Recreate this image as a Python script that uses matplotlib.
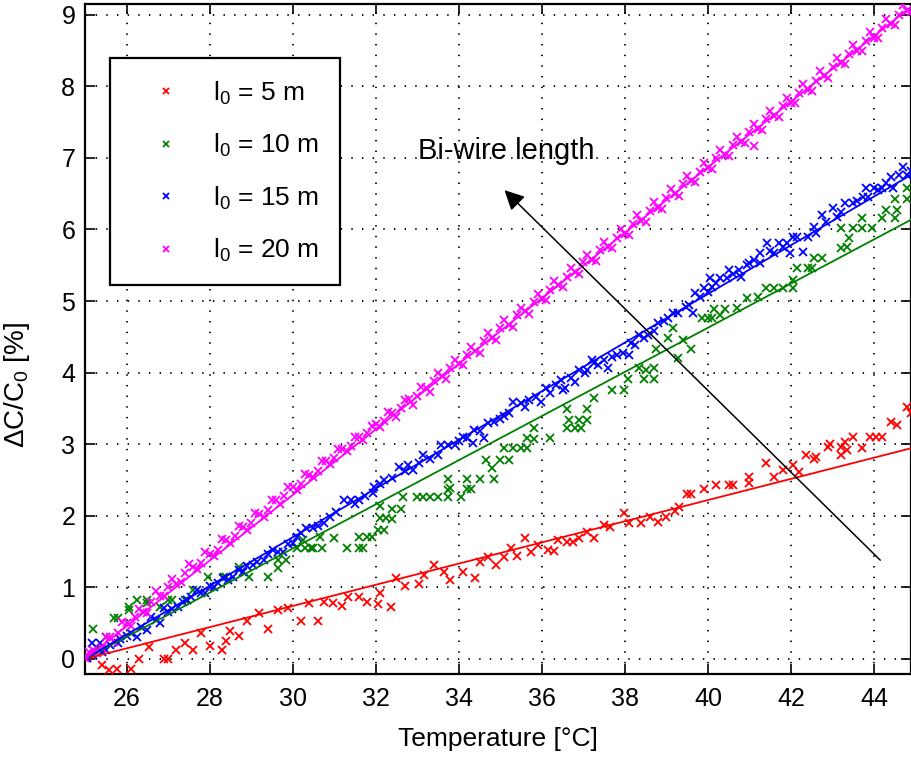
import matplotlib
matplotlib.use("Agg")
import matplotlib.pyplot as plt

plt.rcParams['font.family'] = ['Liberation Sans', 'DejaVu Sans']
plt.rcParams['mathtext.default'] = 'regular'

# ---------------- data ----------------
labels = ["l$_0$ = 5 m", "l$_0$ = 10 m", "l$_0$ = 15 m", "l$_0$ = 20 m"]
colors = ["#ff0000", "#008000", "#0000ff", "#ff00ff"]

fit_x = [25.0, 45.0]
fit_red = [0.0, 2.96]
fit_green = [0.0, 6.17]
fit_blue = [0.0, 6.80]
fit_mag = [0.0, 9.16]

red_x = [25.05, 25.4, 25.57, 25.76, 26.1, 26.3, 26.55, 26.9, 27.0, 27.2, 27.4, 27.6, 27.8, 28.0,
         28.3, 28.4, 28.5, 28.7, 28.9, 29.2, 29.4, 29.65, 29.9, 30.2, 30.6, 30.4, 30.75, 30.97,
         31.2, 31.33, 31.6, 31.8, 32.05, 32.1, 32.36, 32.5, 32.7, 33.04, 33.16, 33.4, 33.65, 33.8,
         34.1, 34.4, 34.5, 34.7, 34.9, 35.1, 35.25, 35.4, 35.6, 35.75, 35.9, 36.14, 36.3, 36.4,
         36.6, 36.75, 36.9, 37.1, 37.25, 37.5, 37.65, 37.97, 38.1, 38.4, 38.6, 38.8, 39.0, 39.2,
         39.3, 39.5, 39.6, 39.9, 40.2, 40.5, 40.6, 41.0, 41.0, 41.4, 41.6, 41.8, 42.05, 42.2,
         42.35, 42.55, 42.6, 42.9, 42.95, 43.2, 43.2, 43.3, 43.35, 43.5, 43.7, 43.9, 44.05, 44.2,
         44.4, 44.55, 44.8, 44.9]
red_y = [0.02, -0.08, -0.15, -0.14, -0.14, 0.00, 0.17, 0.00, 0.00, 0.13, 0.22, 0.13, 0.36, 0.18,
         0.13, 0.25, 0.39, 0.32, 0.53, 0.64, 0.42, 0.68, 0.71, 0.53, 0.53, 0.78, 0.80, 0.78,
         0.74, 0.87, 0.87, 0.80, 0.77, 0.92, 0.72, 1.13, 1.02, 1.05, 1.17, 1.31, 1.21, 1.10,
         1.21, 1.13, 1.36, 1.43, 1.31, 1.43, 1.55, 1.44, 1.69, 1.50, 1.59, 1.52, 1.51, 1.66,
         1.63, 1.63, 1.69, 1.77, 1.69, 1.87, 1.84, 2.04, 1.90, 1.90, 1.98, 1.91, 1.98, 2.07,
         2.12, 2.30, 2.30, 2.37, 2.43, 2.43, 2.43, 2.54, 2.46, 2.74, 2.54, 2.64, 2.71, 2.61,
         2.85, 2.80, 2.82, 2.96, 3.00, 2.85, 2.96, 3.03, 2.92, 3.10, 2.95, 3.10, 3.10, 3.10,
         3.31, 3.27, 3.52, 3.44]

green_x = [25.05, 25.2, 25.3, 25.5, 25.7, 25.8, 26.05, 26.05, 26.25, 26.5, 26.5, 26.8, 27.0, 27.1,
           27.4, 27.45, 27.6, 27.97, 28.35, 28.4, 28.7, 28.95, 29.4, 29.65, 29.65, 29.85, 30.1,
           30.3, 30.5, 30.25, 30.45, 30.7, 30.65, 31.0, 31.3, 31.6, 31.7, 31.6, 31.8, 31.9, 32.05,
           32.2, 32.1, 32.25, 32.4, 32.1, 32.4, 32.6, 32.65, 33.0, 33.15, 33.3, 33.5, 33.75, 34.05,
           33.8, 34.2, 34.3, 33.75, 34.2, 34.5, 34.85, 33.75, 34.65, 34.8, 35.0, 35.2, 35.1, 35.3,
           35.5, 35.65, 35.65, 35.8, 35.8, 36.2, 36.6, 36.8, 36.95, 36.65, 36.9, 37.1, 36.6, 37.1,
           37.25, 37.7, 37.97, 38.07, 38.45, 38.35, 38.5, 38.7, 38.7, 38.75, 39.03, 39.15, 39.27,
           39.4, 39.6, 39.85, 40.0, 40.1, 40.15, 40.4, 40.3, 40.7, 40.95, 41.2, 41.4, 41.6, 41.8,
           42.05, 42.05, 42.15, 42.4, 42.5, 42.55, 42.75, 43.2, 43.35, 43.4, 43.2, 43.5, 43.7,
           43.95, 43.7, 44.2, 44.5, 44.3, 44.55, 44.5, 44.8, 44.8]
green_y = [0.05, 0.42, 0.15, 0.30, 0.57, 0.57, 0.73, 0.68, 0.82, 0.82, 0.78, 0.73, 0.82, 0.82,
           0.82, 0.82, 0.96, 1.15, 1.15, 1.15, 1.28, 1.15, 1.15, 1.27, 1.38, 1.38, 1.55,
           1.55, 1.55, 1.66, 1.55, 1.55, 1.70, 1.69, 1.55, 1.55, 1.55, 1.70, 1.70, 1.70, 1.80,
           1.80, 1.97, 1.97, 1.96, 2.14, 2.10, 2.10, 2.26, 2.26, 2.26, 2.26, 2.26, 2.26, 2.26,
           2.39, 2.37, 2.37, 2.51, 2.51, 2.51, 2.51, 2.36, 2.78, 2.67, 2.78, 2.78, 2.95, 2.95,
           2.95, 2.95, 3.09, 3.23, 3.07, 3.09, 3.23, 3.23, 3.23, 3.34, 3.34, 3.34, 3.49, 3.49,
           3.65, 3.76, 3.76, 3.91, 3.91, 4.06, 4.04, 3.91, 4.06, 4.33, 4.48, 4.62, 4.20,
           4.46, 4.33, 4.76, 4.76, 4.76, 4.89, 4.89, 4.80, 4.90, 5.04, 5.06, 5.18, 5.18, 5.18,
           5.18, 5.29, 5.46, 5.46, 5.46, 5.60, 5.60, 5.74, 5.75, 5.88, 6.02, 6.02, 6.02,
           6.02, 6.16, 6.16, 6.16, 6.27, 6.27, 6.42, 6.42, 6.58]

blue_x = [25.05, 25.16, 25.2, 25.35, 25.4, 25.5, 25.6, 25.8, 25.85, 26.0, 26.1, 26.25, 26.35, 26.5,
          26.6, 26.7, 26.8, 26.9, 27.0, 27.1, 27.25, 27.35, 27.45, 27.55, 27.7, 27.8, 27.9, 28.0,
          28.1, 28.2, 28.33, 28.45, 28.57, 28.7, 28.8, 28.9, 29.05, 29.15, 29.3, 29.4, 29.53,
          29.65, 29.77, 29.9, 30.0, 30.1, 30.2, 30.33, 30.5, 30.6, 30.76, 30.9, 31.05, 31.24,
          31.4, 31.5, 31.6, 31.75, 31.94, 31.97, 32.1, 32.2, 32.4, 32.56, 32.7, 32.78, 32.9,
          33.05, 33.14, 33.3, 33.5, 33.57, 33.74, 33.9, 34.0, 34.1, 34.2, 34.35, 34.37, 34.5,
          34.6, 34.7, 34.85, 35.0, 35.1, 35.2, 35.3, 35.5, 35.6, 35.7, 35.85, 35.97, 36.1, 36.2,
          36.33, 36.45, 36.5, 36.57, 36.7, 36.8, 36.9, 37.05, 37.1, 37.2, 37.25, 37.35, 37.5,
          37.6, 37.7, 37.8, 37.95, 38.1, 38.15, 38.25, 38.35, 38.45, 38.55, 38.7, 38.8, 38.95,
          39.05, 39.15, 39.27, 39.46, 39.55, 39.65, 39.7, 39.8, 39.9, 40.0, 40.06, 40.1, 40.2,
          40.3, 40.47, 40.5, 40.6, 40.74, 40.8, 40.95, 41.0, 41.1, 41.26, 41.26, 41.43, 41.5,
          41.6, 41.7, 41.8, 41.9, 41.98, 42.05, 42.15, 42.3, 42.4, 42.56, 42.6, 42.75, 42.85,
          43.0, 43.1, 43.2, 43.3, 43.5, 43.6, 43.74, 43.8, 43.86, 44.0, 44.1, 44.2, 44.3, 44.4,
          44.45, 44.6, 44.7, 44.8, 44.9]
blue_y = [0.02, 0.22, 0.05, 0.22, 0.10, 0.12, 0.20, 0.22, 0.28, 0.32, 0.36, 0.31, 0.45, 0.40,
          0.59, 0.55, 0.50, 0.71, 0.66, 0.70, 0.73, 0.80, 0.82, 0.86, 0.96, 0.92, 0.92, 1.02,
          1.00, 1.06, 1.13, 1.10, 1.15, 1.24, 1.21, 1.30, 1.31, 1.36, 1.38, 1.46, 1.52,
          1.50, 1.49, 1.60, 1.62, 1.70, 1.76, 1.83, 1.83, 1.86, 1.90, 1.98, 2.05, 2.22,
          2.22, 2.16, 2.22, 2.28, 2.32, 2.40, 2.44, 2.50, 2.53, 2.68, 2.62, 2.71, 2.64,
          2.74, 2.85, 2.80, 2.85, 2.99, 2.99, 2.99, 3.05, 3.10, 3.08, 3.02, 3.20, 3.18,
          3.09, 3.30, 3.31, 3.35, 3.40, 3.43, 3.59, 3.58, 3.52, 3.62, 3.66, 3.59, 3.79, 3.72,
          3.83, 3.90, 3.76, 3.79, 3.92, 3.87, 4.04, 3.99, 4.04, 4.18, 4.13, 4.10, 4.18,
          4.06, 4.22, 4.24, 4.28, 4.24, 4.41, 4.38, 4.52, 4.48, 4.52, 4.58, 4.69, 4.72,
          4.76, 4.83, 4.83, 4.92, 4.95, 4.83, 5.11, 5.05, 5.18, 5.12, 5.32, 5.20, 5.25,
          5.32, 5.32, 5.43, 5.38, 5.43, 5.34, 5.50, 5.53, 5.58, 5.53, 5.67, 5.81, 5.70,
          5.67, 5.81, 5.75, 5.81, 5.67, 5.89, 5.89, 5.68, 5.90, 6.03, 5.95, 6.20, 6.10,
          6.30, 6.17, 6.25, 6.37, 6.37, 6.40, 6.45, 6.58, 6.45, 6.58, 6.55, 6.58, 6.65, 6.73,
          6.58, 6.76, 6.87, 6.76, 6.82]

mag_x = [25.0, 25.2, 25.4, 25.6, 25.8, 26.0, 26.2, 26.4, 26.6, 26.8, 27.0, 27.2, 27.4, 27.6, 27.8,
         28.0, 28.2, 28.4, 28.6, 28.8, 29.0, 29.2, 29.4, 29.6, 29.8, 30.0, 30.2, 30.4, 30.6, 30.8,
         31.0, 31.2, 31.4, 31.6, 31.8, 32.0, 32.2, 32.4, 32.6, 32.8, 33.0, 33.2, 33.4, 33.6, 33.8,
         34.0, 34.2, 34.4, 34.6, 34.8, 35.0, 35.2, 35.4, 35.6, 35.8, 36.0, 36.2, 36.4, 36.6, 36.8,
         37.0, 37.2, 37.4, 37.6, 37.8, 38.0, 38.2, 38.4, 38.6, 38.8, 39.0, 39.2, 39.4, 39.6, 39.8,
         40.0, 40.2, 40.4, 40.6, 40.8, 41.0, 41.2, 41.4, 41.6, 41.8, 42.0, 42.2, 42.4, 42.6, 42.8,
         43.0, 43.2, 43.4, 43.6, 43.8, 44.0, 44.2, 44.4, 44.6, 44.8,
         25.1, 25.3, 25.5, 25.7, 25.9, 26.1, 26.3, 26.5, 26.7, 26.9, 27.1, 27.3, 27.5, 27.7, 27.9,
         28.1, 28.3, 28.5, 28.7, 28.9, 29.1, 29.3, 29.5, 29.7, 29.9, 30.1, 30.3, 30.5, 30.7, 30.9,
         31.1, 31.3, 31.5, 31.7, 31.9, 32.1, 32.3, 32.5, 32.7, 32.9, 33.1, 33.3, 33.5, 33.7, 33.9,
         34.1, 34.3, 34.5, 34.7, 34.9, 35.1, 35.3, 35.5, 35.7, 35.9, 36.1, 36.3, 36.5, 36.7, 36.9,
         37.1, 37.3, 37.5, 37.7, 37.9, 38.1, 38.3, 38.5, 38.7, 38.9, 39.1, 39.3, 39.5, 39.7, 39.9,
         40.1, 40.3, 40.5, 40.7, 40.9, 41.1, 41.3, 41.5, 41.7, 41.9, 42.1, 42.3, 42.5, 42.7, 42.9,
         43.1, 43.3, 43.5, 43.7, 43.9, 44.1, 44.3, 44.5, 44.7, 44.9, 41.1]
mag_y = [0.02, 0.12, 0.15, 0.30, 0.36, 0.50, 0.58, 0.66, 0.80, 0.88, 1.00, 1.05, 1.20, 1.28, 1.34,
         1.47, 1.52, 1.66, 1.72, 1.84, 1.90, 2.02, 2.08, 2.22, 2.27, 2.40, 2.44, 2.57, 2.62, 2.76,
         2.81, 2.93, 2.98, 3.10, 3.16, 3.28, 3.33, 3.44, 3.50, 3.63, 3.68, 3.78, 3.89, 3.95, 4.06,
         4.12, 4.25, 4.30, 4.44, 4.49, 4.62, 4.66, 4.80, 4.86, 4.98, 5.03, 5.16, 5.22, 5.33, 5.40,
         5.54, 5.58, 5.72, 5.76, 5.88, 5.94, 6.08, 6.12, 6.26, 6.30, 6.44, 6.50, 6.63, 6.68, 6.80,
         6.86, 7.00, 7.04, 7.18, 7.22, 7.36, 7.41, 7.54, 7.58, 7.72, 7.77, 7.90, 7.95, 8.08, 8.14,
         8.27, 8.32, 8.45, 8.50, 8.64, 8.68, 8.82, 8.87, 9.00, 9.05,
         0.10, 0.08, 0.30, 0.24, 0.52, 0.46, 0.70, 0.64, 0.95, 0.88, 1.12, 1.08, 1.32, 1.26, 1.50,
         1.44, 1.68, 1.62, 1.86, 1.80, 2.04, 1.98, 2.22, 2.16, 2.40, 2.36, 2.58, 2.54, 2.76, 2.72,
         2.94, 2.90, 3.10, 3.06, 3.26, 3.24, 3.45, 3.38, 3.62, 3.55, 3.80, 3.73, 3.99, 3.91, 4.17,
         4.10, 4.36, 4.28, 4.55, 4.46, 4.73, 4.64, 4.91, 4.82, 5.10, 5.01, 5.28, 5.19, 5.46, 5.38,
         5.65, 5.56, 5.83, 5.74, 6.01, 5.92, 6.20, 6.11, 6.38, 6.29, 6.56, 6.47, 6.75, 6.66, 6.93,
         6.84, 7.11, 7.02, 7.29, 7.21, 7.48, 7.39, 7.66, 7.57, 7.84, 7.76, 8.03, 7.94, 8.21, 8.12,
         8.39, 8.31, 8.58, 8.49, 8.76, 8.67, 8.94, 8.86, 9.13, 9.04, 7.16]

xticks = [26, 28, 30, 32, 34, 36, 38, 40, 42, 44]
yticks = [0, 1, 2, 3, 4, 5, 6, 7, 8, 9]

# ---------------- figure ----------------
fig = plt.figure(figsize=(9.11, 7.58), dpi=100)
ax = fig.add_axes([85 / 911, 1 - 674 / 758, (911 - 85) / 911, (674 - 4) / 758])

series = [(red_x, red_y, fit_red), (green_x, green_y, fit_green),
          (blue_x, blue_y, fit_blue), (mag_x, mag_y, fit_mag)]
handles = []
for (sx, sy, fy), c, lab in zip(series, colors, labels):
    h, = ax.plot(sx, sy, linestyle='none', marker='x', color=c, markersize=5.5,
                 markeredgewidth=1.3, label=lab, zorder=3)
    ax.plot(fit_x, fy, color=c, linewidth=1.3, zorder=4)
    handles.append(h)

ax.set_xlim(25, 44.89)
ax.set_ylim(-0.21, 9.15)
ax.set_xticks(xticks)
ax.set_yticks(yticks)
ax.tick_params(direction='in', length=7, width=1.2, labelsize=18, top=True, right=True,
               pad=9, colors='black')
ax.tick_params(axis='y', pad=7)
for s in ax.spines.values():
    s.set_linewidth(1.6)
ax.grid(True, color='black', linewidth=1.3, linestyle=(0, (0.8, 5.1)))
ax.set_axisbelow(True)

ax.set_xlabel("Temperature [°C]", fontsize=19, labelpad=12)
ax.set_ylabel("ΔC/C$_0$ [%]", fontsize=20)
ax.yaxis.set_label_coords(-0.064, 0.431)

leg = ax.legend(handles=handles, loc='upper left', bbox_to_anchor=(0.0303, 0.919),
                fontsize=19, numpoints=1, markerscale=0.8, frameon=True, fancybox=False,
                edgecolor='black', framealpha=1.0, labelspacing=0.96, handletextpad=0.45,
                borderpad=0.8, handlelength=2.65, borderaxespad=0)
leg.get_frame().set_linewidth(1.6)

ax.annotate("", xy=(35.1, 6.55), xytext=(44.15, 1.38),
            arrowprops=dict(arrowstyle='-|>', color='black', lw=1.1,
                            mutation_scale=30, shrinkA=0, shrinkB=0), zorder=5)
ax.text(33.02, 7.1, "Bi-wire length", fontsize=21, ha='left', va='center', zorder=5)

fig.savefig("out.png", dpi=100)
